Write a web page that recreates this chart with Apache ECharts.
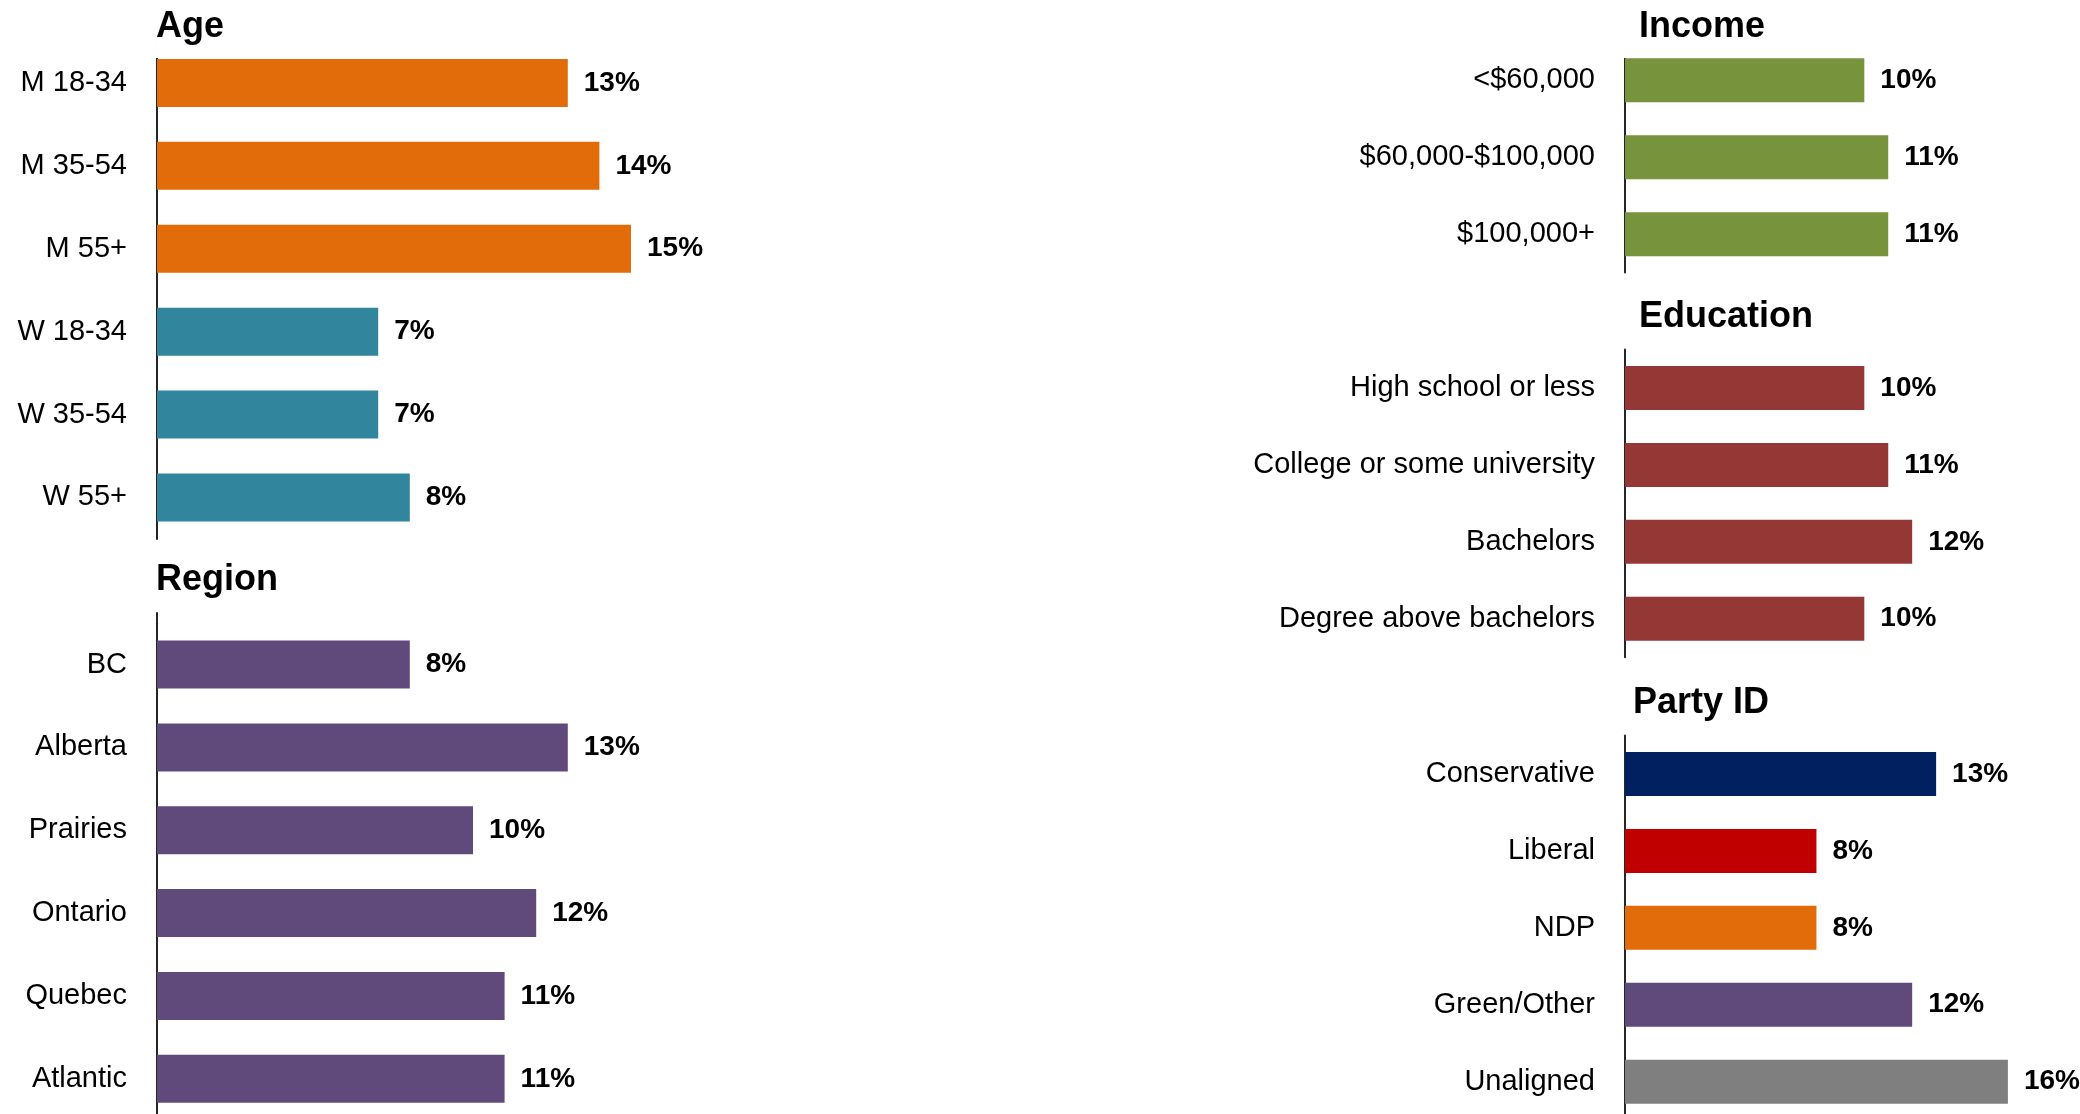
<!DOCTYPE html>
<html>
<head>
<meta charset="utf-8">
<script src="https://cdn.jsdelivr.net/npm/echarts@6/dist/echarts.min.js"></script>
<style>
  html, body { margin: 0; padding: 0; background: #ffffff; overflow: hidden; }
  #frame { width: 2080px; height: 1114px; overflow: hidden; position: relative; }
  /* the lowest panels run slightly past the bottom edge */
  #chart { width: 2080px; height: 1130px; position: absolute; left: 0; top: 0; }
</style>
</head>
<body>
<div id="frame"><div id="chart"></div></div>
<script>
// Share of respondents by group (%)
const ageCats = ['M 18-34', 'M 35-54', 'M 55+', 'W 18-34', 'W 35-54', 'W 55+'];
const ageVals = [13, 14, 15, 7, 7, 8];

const regionCats = ['BC', 'Alberta', 'Prairies', 'Ontario', 'Quebec', 'Atlantic'];
const regionVals = [8, 13, 10, 12, 11, 11];

const incomeCats = ['<$60,000', '$60,000-$100,000', '$100,000+'];
const incomeVals = [10, 11, 11];

const eduCats = ['High school or less', 'College or some university', 'Bachelors', 'Degree above bachelors'];
const eduVals = [10, 11, 12, 10];

const partyCats = ['Conservative', 'Liberal', 'NDP', 'Green/Other', 'Unaligned'];
const partyVals = [13, 8, 8, 12, 16];

const ORANGE = '#E36C0A', TEAL = '#31859C', PURPLE = '#604A7B',
      GREEN = '#77933C', BRICK = '#953735', NAVY = '#002060',
      RED = '#C00000', GREY = '#7F7F7F';

const ageColors = [ORANGE, ORANGE, ORANGE, TEAL, TEAL, TEAL];
const partyColors = [NAVY, RED, ORANGE, PURPLE, GREY];

const FONT = "'Liberation Sans', Arial, sans-serif";
const AXIS_LINE = { show: true, lineStyle: { color: '#262626', width: 2 } };

// panel layout: grid box, bar thickness, value range (left: 20 units, right: 16 units)
const panels = [
  { title: 'Age',       cats: ageCats,    vals: ageVals,    colors: ageColors,
    left: 157,  width: 632,   max: 20, top: 41.5,  height: 497.4, bar: 48,
    tLeft: 156, tTop: 0,   tPad: [7, 10, 11, 0], box: true },
  { title: 'Region',    cats: regionCats, vals: regionVals, colors: PURPLE,
    left: 157,  width: 632,   max: 20, top: 623.2, height: 497,   bar: 48,
    tLeft: 156, tTop: 560, tPad: [0, 10, 0, 0], box: false },
  { title: 'Income',    cats: incomeCats, vals: incomeVals, colors: GREEN,
    left: 1625, width: 382.9, max: 16, top: 41.9,  height: 230.7, bar: 44,
    tLeft: 1621, tTop: 0,  tPad: [7, 10, 11, 18], box: true },
  { title: 'Education', cats: eduCats,    vals: eduVals,    colors: BRICK,
    left: 1625, width: 382.9, max: 16, top: 349.6, height: 307.6, bar: 44,
    tLeft: 1639, tTop: 297, tPad: [0, 10, 0, 0], box: false },
  { title: 'Party ID',  cats: partyCats,  vals: partyVals,  colors: partyColors,
    left: 1625, width: 382.9, max: 16, top: 735.6, height: 384.5, bar: 44,
    tLeft: 1633, tTop: 683, tPad: [0, 10, 0, 0], box: false }
];

const option = {
  backgroundColor: '#ffffff',
  animation: false,
  title: [],
  grid: [],
  xAxis: [],
  yAxis: [],
  series: []
};

panels.forEach((p, i) => {
  option.title.push({
    text: p.title,
    left: p.tLeft,
    top: p.tTop,
    padding: p.tPad,
    backgroundColor: p.box ? '#ffffff' : 'transparent',
    z: 10,
    textStyle: {
      fontFamily: FONT,
      fontWeight: 'bold',
      fontSize: 36,
      lineHeight: 40,
      color: '#000000'
    }
  });
  option.grid.push({
    left: p.left, width: p.width, top: p.top, height: p.height,
    containLabel: false
  });
  option.xAxis.push({
    gridIndex: i, type: 'value', min: 0, max: p.max, show: false
  });
  option.yAxis.push({
    gridIndex: i,
    type: 'category',
    data: p.cats,
    inverse: true,
    axisLine: AXIS_LINE,
    axisTick: { show: false },
    splitLine: { show: false },
    axisLabel: {
      margin: 30,
      fontFamily: FONT,
      fontSize: 29,
      color: '#000000'
    }
  });
  option.series.push({
    type: 'bar',
    xAxisIndex: i,
    yAxisIndex: i,
    barWidth: p.bar,
    data: p.vals.map((v, k) => ({
      value: v,
      itemStyle: { color: Array.isArray(p.colors) ? p.colors[k] : p.colors }
    })),
    label: {
      show: true,
      position: 'right',
      distance: 16,
      formatter: '{c}%',
      fontFamily: FONT,
      fontWeight: 'bold',
      fontSize: 28,
      color: '#000000'
    }
  });
});

// the Region plot frame starts a little above its first band: extra axis line only
option.grid.push({ left: 157, width: 632, top: 613, height: 40 });
option.xAxis.push({ gridIndex: 5, type: 'value', show: false });
option.yAxis.push({
  gridIndex: 5, type: 'value',
  axisLine: AXIS_LINE,
  axisTick: { show: false }, axisLabel: { show: false }, splitLine: { show: false }
});

const chart = echarts.init(document.getElementById('chart'), null, { renderer: 'canvas' });
chart.setOption(option);
</script>
</body>
</html>
